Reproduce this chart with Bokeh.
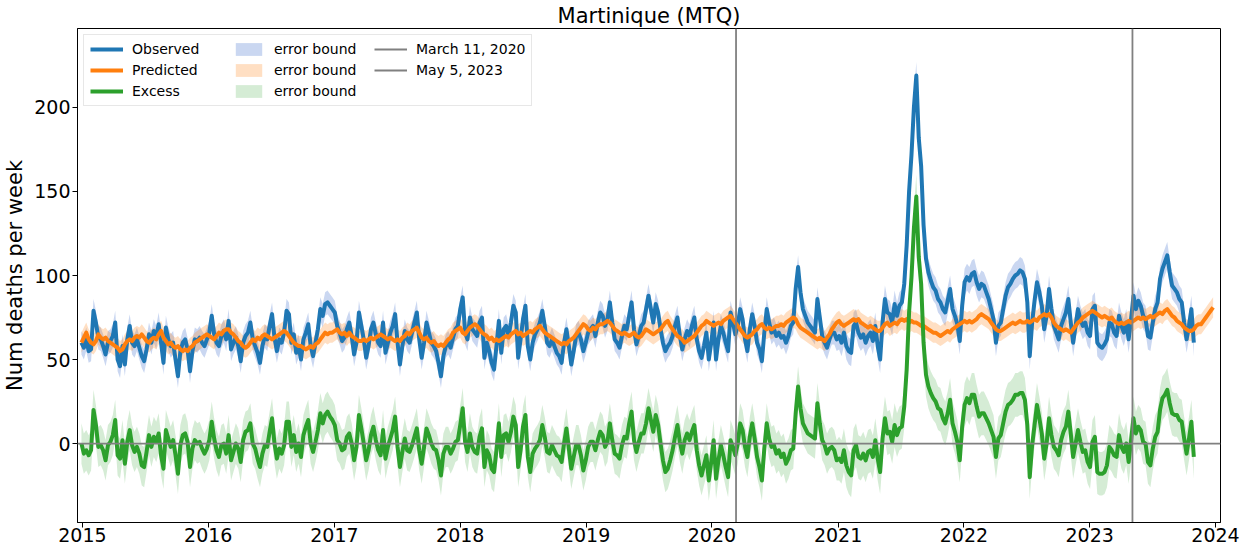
from datetime import datetime, timedelta
from bokeh.plotting import figure
from bokeh.models import (Range1d, FixedTicker, DatetimeTickFormatter, Span,
                          Legend, LegendItem, ColumnDataSource)
from bokeh.embed import file_html
from bokeh.resources import INLINE

# ---------------- data (weekly deaths) ----------------
start_date = datetime(2014, 12, 29)

obs_2015 = [60, 57, 62, 55, 56, 79, 72, 63, 62, 58, 53, 60, 61, 64, 72, 50, 46, 58, 47, 62,
            70, 60, 58, 62, 57, 52, 49, 56, 65, 60, 67, 63, 71, 60, 48, 69, 62, 58, 60, 50,
            40, 55, 60, 62, 56, 43, 55, 62, 61, 63, 60, 58]
obs_2016 = [62, 66, 76, 65, 60, 58, 64, 67, 62, 73, 56, 60, 63, 58, 49, 60, 64, 66, 72, 62,
            58, 54, 48, 58, 64, 62, 70, 77, 63, 55, 62, 60, 66, 79, 77, 60, 65, 54, 58, 50,
            62, 66, 71, 58, 52, 60, 68, 80, 76, 83, 84, 82]
obs_2017 = [80, 78, 70, 66, 61, 63, 68, 72, 64, 53, 60, 78, 70, 62, 51, 58, 68, 72, 65, 60,
            58, 72, 54, 60, 66, 70, 77, 60, 47, 58, 67, 62, 60, 66, 72, 78, 62, 51, 60, 72,
            66, 60, 58, 55, 48, 40, 52, 58, 60, 57, 63, 68]
obs_2018 = [70, 80, 87, 66, 62, 75, 68, 66, 64, 72, 75, 51, 60, 55, 48, 44, 58, 73, 54, 68,
            70, 64, 72, 82, 78, 51, 62, 74, 82, 58, 50, 60, 65, 68, 72, 79, 70, 60, 58, 62,
            58, 54, 52, 48, 60, 68, 58, 47, 55, 64, 66, 62]
obs_2019 = [55, 60, 66, 68, 70, 64, 72, 78, 76, 70, 74, 84, 72, 62, 60, 57, 64, 70, 68, 76,
            84, 68, 59, 64, 70, 72, 80, 88, 80, 72, 83, 78, 68, 60, 55, 58, 60, 64, 70, 75,
            64, 56, 62, 67, 64, 70, 75, 62, 55, 51, 58, 66]
obs_2020 = [50, 60, 72, 50, 62, 70, 66, 60, 55, 78, 72, 65, 70, 80, 74, 62, 55, 68, 77, 70,
            60, 56, 49, 66, 80, 72, 66, 68, 64, 66, 63, 64, 60, 64, 70, 72, 92, 105, 90, 80,
            76, 72, 70, 68, 66, 86, 75, 64, 60, 57, 62, 66]
obs_2021 = [66, 62, 64, 60, 66, 58, 55, 54, 70, 72, 66, 63, 65, 60, 64, 66, 61, 70, 58, 50,
            72, 86, 78, 77, 72, 83, 76, 82, 84, 95, 118, 150, 172, 200, 219, 182, 165, 130, 110, 102,
            97, 93, 91, 86, 84, 80, 78, 85, 92, 80, 76, 71]
obs_2022 = [61, 82, 96, 99, 97, 101, 102, 96, 92, 95, 94, 90, 86, 80, 74, 60, 70, 72, 80, 88,
            93, 95, 98, 100, 101, 103, 102, 98, 84, 52, 72, 85, 96, 90, 82, 68, 76, 92, 80, 70,
            66, 62, 70, 74, 78, 86, 72, 60, 70, 80, 74, 70]
obs_2023 = [72, 66, 64, 80, 82, 60, 58, 57, 59, 62, 72, 71, 66, 64, 76, 70, 66, 72, 62, 74,
            88, 80, 85, 82, 76, 74, 64, 63, 72, 80, 84, 98, 104, 108, 112, 102, 94, 92, 90, 86,
            84, 72, 62, 70, 80, 60]

pred_2015 = [60, 63, 66, 62, 60, 59, 61, 65, 63, 62, 63, 61, 60, 59, 58, 57, 55, 56, 59, 61,
             62, 61, 63, 64, 63, 65, 63, 61, 60, 62, 63, 62, 65, 67, 63, 61, 59, 60, 58, 57,
             58, 56, 55, 56, 55, 57, 58, 60, 61, 62, 63, 64]
pred_2016 = [65, 64, 63, 62, 64, 66, 65, 67, 68, 68, 66, 65, 63, 61, 60, 58, 57, 58, 60, 62,
             61, 63, 62, 64, 65, 64, 63, 62, 63, 64, 65, 66, 67, 66, 64, 62, 60, 59, 58, 58,
             57, 56, 57, 58, 57, 59, 60, 62, 64, 66, 65, 66]
pred_2017 = [66, 67, 68, 66, 65, 66, 64, 66, 64, 63, 62, 61, 61, 62, 61, 62, 63, 62, 63, 64,
             65, 64, 63, 62, 63, 62, 61, 62, 61, 63, 64, 66, 65, 67, 68, 69, 66, 63, 62, 63,
             61, 60, 61, 59, 58, 59, 58, 60, 62, 63, 66, 67]
pred_2018 = [68, 69, 66, 65, 67, 69, 70, 71, 70, 68, 66, 65, 64, 62, 63, 61, 62, 61, 62, 63,
             64, 63, 65, 66, 67, 65, 66, 64, 65, 66, 67, 66, 68, 69, 70, 68, 66, 65, 64, 63,
             62, 61, 60, 59, 60, 59, 61, 62, 63, 65, 67, 69]
pred_2019 = [71, 70, 68, 67, 69, 68, 70, 71, 71, 72, 73, 72, 70, 68, 67, 66, 65, 66, 65, 64,
             65, 66, 64, 63, 64, 66, 68, 67, 66, 65, 66, 67, 68, 70, 72, 73, 70, 68, 66, 64,
             63, 62, 60, 61, 62, 63, 64, 66, 68, 70, 71, 73]
pred_2020 = [72, 71, 70, 71, 72, 71, 73, 74, 75, 76, 74, 72, 70, 68, 66, 64, 63, 64, 65, 67,
             68, 70, 71, 69, 68, 69, 68, 69, 70, 70, 71, 70, 72, 73, 74, 75, 74, 71, 69, 68,
             67, 66, 65, 64, 63, 62, 63, 62, 61, 63, 65, 68]
pred_2021 = [70, 72, 73, 71, 70, 71, 72, 73, 74, 73, 74, 72, 71, 70, 69, 70, 69, 68, 67, 67,
             69, 71, 72, 70, 71, 72, 71, 73, 74, 73, 74, 72, 73, 72, 72, 71, 70, 70, 69, 68,
             67, 66, 66, 65, 64, 65, 66, 67, 66, 68, 69, 70]
pred_2022 = [71, 72, 73, 72, 73, 72, 73, 74, 76, 77, 76, 75, 74, 72, 70, 68, 67, 67, 68, 69,
             70, 71, 72, 71, 72, 73, 72, 72, 73, 72, 73, 74, 73, 75, 76, 77, 76, 77, 75, 72,
             70, 69, 68, 67, 68, 67, 66, 68, 70, 72, 73, 75]
pred_2023 = [76, 77, 78, 79, 78, 77, 76, 75, 76, 75, 74, 75, 73, 72, 71, 72, 71, 72, 73, 72,
             73, 74, 75, 74, 75, 74, 75, 76, 75, 76, 77, 78, 77, 79, 80, 78, 76, 75, 73, 72,
             71, 69, 68, 67, 67, 68, 70, 71, 71, 73, 75, 77, 79, 81]

# half-width of the error bands, one value per year 2015..2023
band_years = [2015, 2016, 2017, 2018, 2019, 2020, 2021, 2022, 2023]
obs_err = [7, 7, 7, 7, 7, 7, 8, 8, 8]
pred_err = [6, 6, 6, 6, 6, 6, 6, 6, 6]
exc_err = [12, 12, 12, 12, 12, 12, 13, 13, 13]

event_dates = [datetime(2020, 3, 11), datetime(2023, 5, 5)]
event_labels = ["March 11, 2020", "May 5, 2023"]
year_ticks = [2015, 2016, 2017, 2018, 2019, 2020, 2021, 2022, 2023, 2024]
y_ticks = [0, 50, 100, 150, 200]

# ---------------- derived ----------------
observed = (obs_2015 + obs_2016 + obs_2017 + obs_2018 + obs_2019 + obs_2020
            + obs_2021 + obs_2022 + obs_2023)
predicted = (pred_2015 + pred_2016 + pred_2017 + pred_2018 + pred_2019 + pred_2020
             + pred_2021 + pred_2022 + pred_2023)
dates_pred = [start_date + timedelta(weeks=i) for i in range(len(predicted))]
dates_obs = dates_pred[:len(observed)]
excess = [o - pr for o, pr in zip(observed, predicted)]


def yidx(d):
    return min(max(d.year - band_years[0], 0), len(band_years) - 1)


obs_src = ColumnDataSource(dict(
    x=dates_obs, y=observed,
    lo=[v - obs_err[yidx(d)] for v, d in zip(observed, dates_obs)],
    hi=[v + obs_err[yidx(d)] for v, d in zip(observed, dates_obs)]))
pred_src = ColumnDataSource(dict(
    x=dates_pred, y=predicted,
    lo=[v - pred_err[yidx(d)] for v, d in zip(predicted, dates_pred)],
    hi=[v + pred_err[yidx(d)] for v, d in zip(predicted, dates_pred)]))
exc_src = ColumnDataSource(dict(
    x=dates_obs, y=excess,
    lo=[v - exc_err[yidx(d)] for v, d in zip(excess, dates_obs)],
    hi=[v + exc_err[yidx(d)] for v, d in zip(excess, dates_obs)]))

FONT = "DejaVu Sans"
BLUE, ORANGE, GREEN = "#1f77b4", "#ff7f0e", "#2ca02c"
GRAY = "#808080"

y_lo, y_hi = -47, 247
p = figure(width=1240, height=544, x_axis_type="datetime",
           output_backend="svg", toolbar_location=None,
           x_range=Range1d(datetime(2014, 12, 17, 14), datetime(2024, 1, 15, 10)),
           y_range=Range1d(y_lo, y_hi),
           min_border_left=71, min_border_right=20, min_border_top=22,
           min_border_bottom=0, title="Martinique (MTQ)")
p.background_fill_color = "white"
p.border_fill_color = "white"
p.outline_line_color = "black"
p.outline_line_width = 1
p.grid.visible = False

p.title.text_font = FONT
p.title.text_font_size = "21px"
p.title.text_font_style = "normal"
p.title.text_color = "black"
p.title.align = "center"
p.title.standoff = 2

# bands
b_obs = p.varea(x="x", y1="lo", y2="hi", source=obs_src, fill_color="#4f79d0", fill_alpha=0.3)
b_pred = p.varea(x="x", y1="lo", y2="hi", source=pred_src, fill_color=ORANGE, fill_alpha=0.25)
b_exc = p.varea(x="x", y1="lo", y2="hi", source=exc_src, fill_color=GREEN, fill_alpha=0.2)
# lines
l_obs = p.line(x="x", y="y", source=obs_src, line_color=BLUE, line_width=4, line_join="round")
l_pred = p.line(x="x", y="y", source=pred_src, line_color=ORANGE, line_width=4, line_join="round")
l_exc = p.line(x="x", y="y", source=exc_src, line_color=GREEN, line_width=4, line_join="round")

# reference lines
p.add_layout(Span(location=0, dimension="width", line_color=GRAY, line_width=1.8))
ev_src = ColumnDataSource(dict(x=event_dates, y0=[y_lo] * len(event_dates),
                               y1=[y_hi] * len(event_dates)))
ev_renderers = []
for i in range(len(event_dates)):
    src = ColumnDataSource(dict(x=[event_dates[i]], y0=[y_lo], y1=[y_hi]))
    ev_renderers.append(p.segment(x0="x", y0="y0", x1="x", y1="y1", source=src,
                                  line_color=GRAY, line_width=1.8))

# axes
def ms(y):
    return (datetime(y, 1, 1) - datetime(1970, 1, 1)).total_seconds() * 1000.0

p.xaxis.ticker = FixedTicker(ticks=[ms(y) for y in year_ticks])
p.xaxis.formatter = DatetimeTickFormatter(years="%Y", months="%Y", days="%Y", hours="%Y",
                                          minutes="%Y", seconds="%Y", milliseconds="%Y")
p.yaxis.ticker = FixedTicker(ticks=y_ticks)
p.yaxis.axis_label = "Num deaths per week"
for ax in (p.xaxis[0], p.yaxis[0]):
    ax.major_label_text_font = FONT
    ax.major_label_text_font_size = "19px"
    ax.major_label_text_color = "black"
    ax.axis_line_color = "black"
    ax.major_tick_line_color = "black"
    ax.major_tick_out = 5
    ax.major_tick_in = 0
    ax.minor_tick_out = 0
    ax.minor_tick_in = 0
    ax.major_label_standoff = 2
p.xaxis.major_label_standoff = 0
p.yaxis.axis_label_text_font = FONT
p.yaxis.axis_label_text_font_size = "21px"
p.yaxis.axis_label_text_font_style = "normal"
p.yaxis.axis_label_text_color = "black"
p.yaxis.axis_label_standoff = 4

legend = Legend(items=[
    LegendItem(label="Observed", renderers=[l_obs]),
    LegendItem(label="Predicted", renderers=[l_pred]),
    LegendItem(label="Excess", renderers=[l_exc]),
    LegendItem(label="error bound", renderers=[b_obs]),
    LegendItem(label="error bound", renderers=[b_pred]),
    LegendItem(label="error bound", renderers=[b_exc]),
    LegendItem(label=event_labels[0], renderers=[ev_renderers[0]]),
    LegendItem(label=event_labels[1], renderers=[ev_renderers[1]]),
], location="top_left", orientation="vertical", nrows=3)
legend.label_text_font = FONT
legend.label_text_font_size = "14px"
legend.label_text_color = "black"
legend.glyph_width = 33
legend.glyph_height = 16
legend.label_height = 16
legend.label_width = 95
legend.label_standoff = 9
legend.spacing = 5
legend.padding = 6
legend.margin = 6
legend.border_line_color = "#d0d0d0"
legend.border_line_width = 1
legend.background_fill_alpha = 0.85
p.add_layout(legend)

open("out.html", "w").write(file_html(p, INLINE))
